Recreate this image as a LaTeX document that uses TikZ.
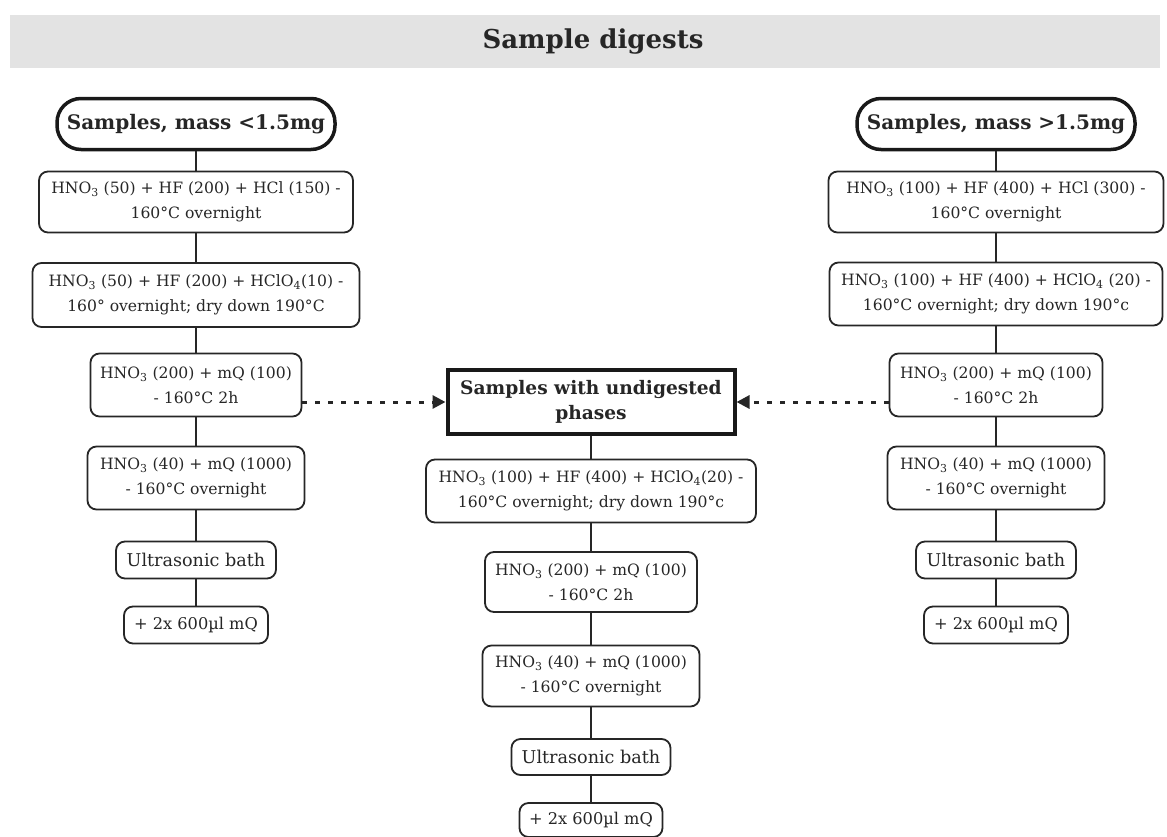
\documentclass[tikz,border=0pt]{standalone}
\usepackage{fontspec}
\setmainfont{DejaVu Serif}
\usetikzlibrary{arrows.meta}
\newcommand{\hno}{HNO\textsubscript{3}}
\newcommand{\hclo}{HClO\textsubscript{4}}
\begin{document}
\begin{tikzpicture}[x=1pt,y=-1pt,
  stepbox/.style={draw=black!85, line width=1.8pt, rounded corners=9pt, fill=white,
    text=black!85, align=center, inner sep=0pt, font=\fontsize{15.6}{25}\selectfont},
  bigstep/.style={stepbox, font=\fontsize{17.6}{20}\selectfont},
  smallstep/.style={stepbox, font=\fontsize{16.2}{20}\selectfont},
  pill/.style={draw=black!90, line width=3.5pt, rounded corners=24pt, fill=white,
    text=black!85, align=center, inner sep=0pt, minimum width=278pt, minimum height=51pt,
    font=\fontsize{20}{22}\selectfont\bfseries},
  keybox/.style={draw=black!90, line width=4pt, fill=white, align=center, inner sep=0pt,
    text=black!85, font=\fontsize{18.6}{25}\selectfont\bfseries},
  conn/.style={draw=black!85, line width=1.8pt},
  dotarrow/.style={draw=black!85, line width=3pt, dash pattern=on 5pt off 8pt,
    -{Triangle[length=13pt,width=13pt]}},
]
\useasboundingbox (0,0) rectangle (1167,836);
\fill[black!11] (10,15) rectangle (1160,68);
\node[font=\fontsize{26}{28}\selectfont\bfseries, text=black!85, inner sep=0pt] (title) at (593,42) {Sample digests};

% left column
\node[pill] (LP) at (196,124) {Samples, mass <1.5mg};
\node[stepbox, minimum width=314pt, minimum height=61pt] (L1) at (196,202)
  {\hno{} (50) + HF (200) + HCl (150) -\\160°C overnight};
\node[stepbox, minimum width=327pt, minimum height=64pt] (L2) at (196,295)
  {\hno{} (50) + HF (200) + \hclo(10) -\\160° overnight; dry down 190°C};
\node[stepbox, minimum width=211pt, minimum height=63pt] (L3) at (196,385)
  {\hno{} (200) + mQ (100)\\- 160°C 2h};
\node[stepbox, minimum width=217pt, minimum height=63pt] (L4) at (196,478)
  {\hno{} (40) + mQ (1000)\\- 160°C overnight};
\node[bigstep, minimum width=160pt, minimum height=37pt] (L5) at (196,560) {Ultrasonic bath};
\node[smallstep, minimum width=144pt, minimum height=37pt] (L6) at (196,625) {+ 2x 600µl mQ};

% right column
\node[pill] (RP) at (996,124) {Samples, mass >1.5mg};
\node[stepbox, minimum width=335pt, minimum height=61pt] (R1) at (996,202)
  {\hno{} (100) + HF (400) + HCl (300) -\\160°C overnight};
\node[stepbox, minimum width=333pt, minimum height=63pt] (R2) at (996,294)
  {\hno{} (100) + HF (400) + \hclo{} (20) -\\160°C overnight; dry down 190°c};
\node[stepbox, minimum width=213pt, minimum height=63pt] (R3) at (996,385)
  {\hno{} (200) + mQ (100)\\- 160°C 2h};
\node[stepbox, minimum width=217pt, minimum height=63pt] (R4) at (996,478)
  {\hno{} (40) + mQ (1000)\\- 160°C overnight};
\node[bigstep, minimum width=160pt, minimum height=37pt] (R5) at (996,560) {Ultrasonic bath};
\node[smallstep, minimum width=144pt, minimum height=37pt] (R6) at (996,625) {+ 2x 600µl mQ};

% centre column
\node[keybox, minimum width=287pt, minimum height=64pt] (CB) at (591,402)
  {Samples with undigested\\phases};
\node[stepbox, minimum width=330pt, minimum height=63pt] (C1) at (591,491)
  {\hno{} (100) + HF (400) + \hclo(20) -\\160°C overnight; dry down 190°c};
\node[stepbox, minimum width=212pt, minimum height=60pt] (C2) at (591,582)
  {\hno{} (200) + mQ (100)\\- 160°C 2h};
\node[stepbox, minimum width=217pt, minimum height=61pt] (C3) at (591,676)
  {\hno{} (40) + mQ (1000)\\- 160°C overnight};
\node[bigstep, minimum width=159pt, minimum height=36pt] (C4) at (591,757) {Ultrasonic bath};
\node[smallstep, minimum width=143pt, minimum height=34pt] (C5) at (591,820) {+ 2x 600µl mQ};

% connectors
\foreach \a/\b in {LP/L1,L1/L2,L2/L3,L3/L4,L4/L5,L5/L6,
                   RP/R1,R1/R2,R2/R3,R3/R4,R4/R5,R5/R6,
                   CB/C1,C1/C2,C2/C3,C3/C4,C4/C5}
  \draw[conn] (\a.south) -- (\b.north);

\draw[dotarrow] ([yshift=-17pt]L3.east) -- (CB.west);
\draw[dotarrow] ([yshift=-17pt]R3.west) -- (CB.east);
\end{tikzpicture}
\end{document}
